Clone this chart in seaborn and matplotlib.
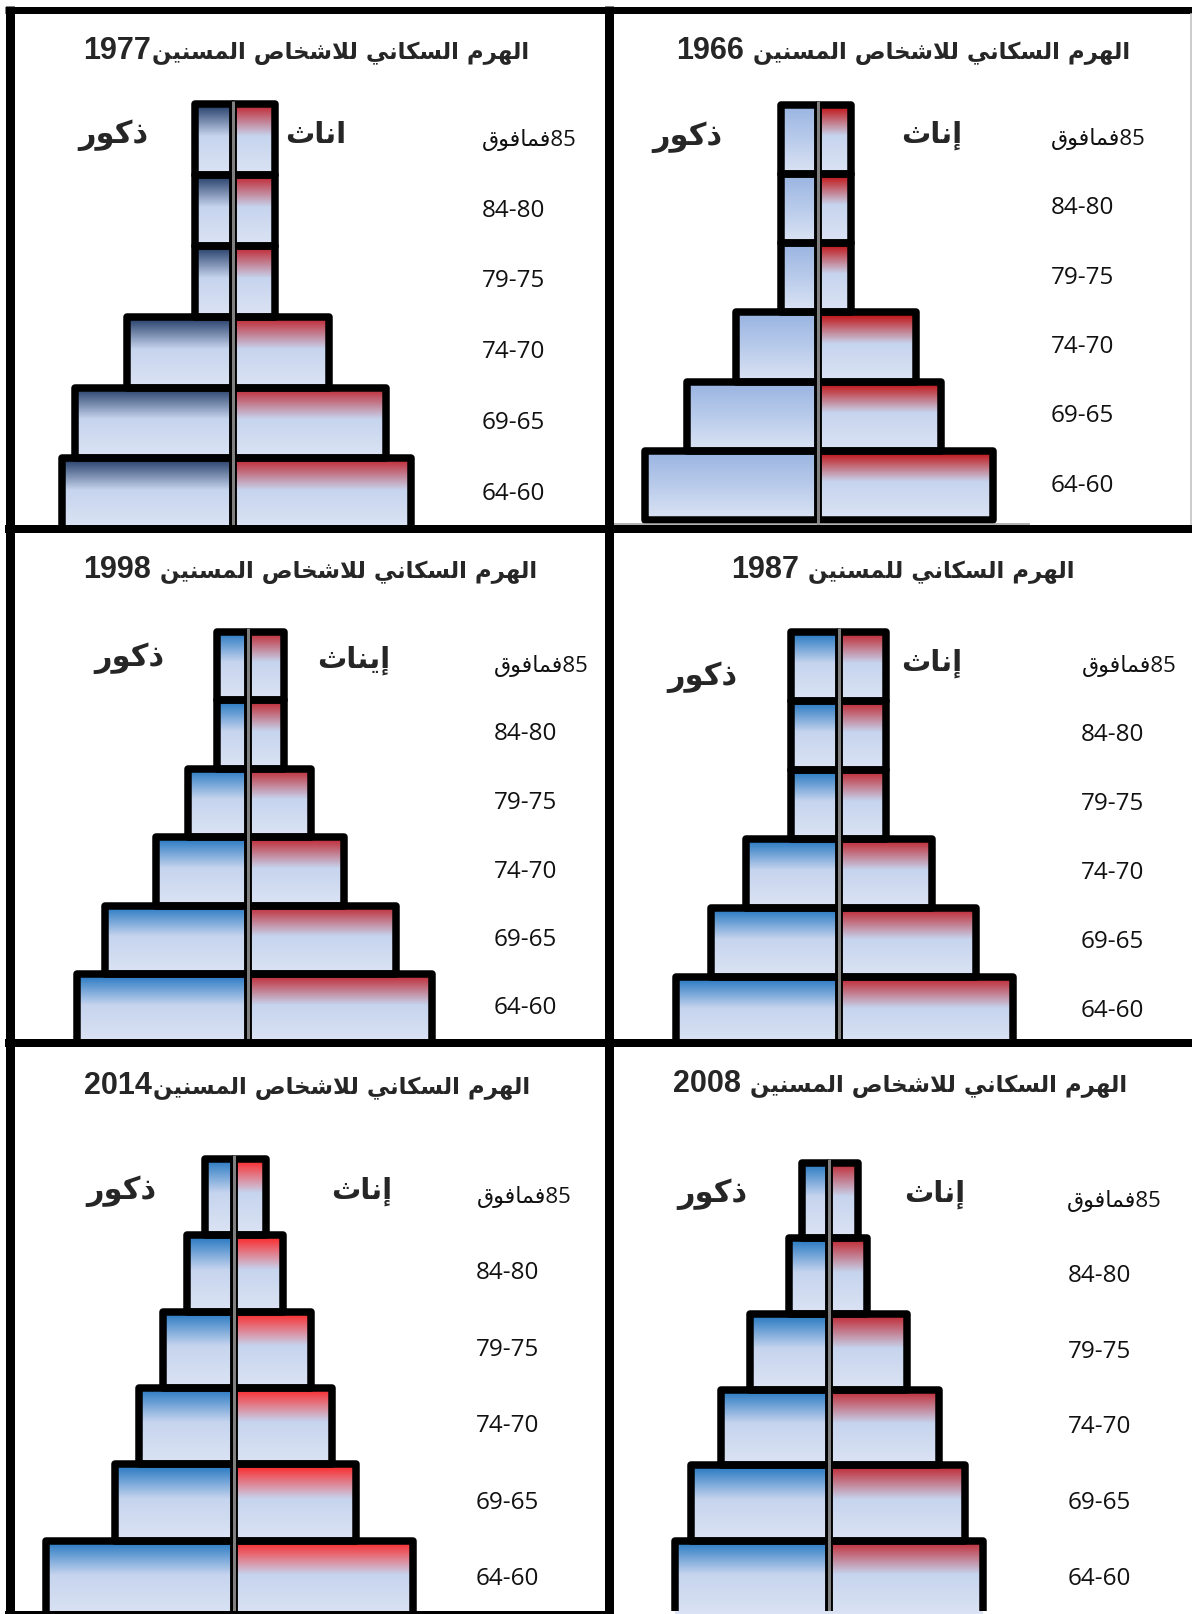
import re
import numpy as np
import pandas as pd
import matplotlib
matplotlib.use("Agg")
import matplotlib.pyplot as plt
from matplotlib.colors import to_rgb
from matplotlib.lines import Line2D
import seaborn as sns

# ---------------------------------------------------------------- data
AGE_GROUPS = ["85فمافوق", "84-80", "79-75", "74-70", "69-65", "64-60"]
MALE_TEXT = "ذكور"

TITLE_1977 = "الهرم السكاني للاشخاص المسنين1977"
TITLE_1966 = "الهرم السكاني للاشخاص المسنين 1966"
TITLE_1998 = "الهرم السكاني للاشخاص المسنين 1998"
TITLE_1987 = "الهرم السكاني للمسنين 1987"
TITLE_2014 = "الهرم السكاني للاشخاص المسنين2014"
TITLE_2008 = "الهرم السكاني للاشخاص المسنين 2008"

FEMALE_1977 = "اناث"
FEMALE_1966 = "إناث"
FEMALE_1998 = "إيناث"
FEMALE_1987 = "إناث"
FEMALE_2014 = "إناث"
FEMALE_2008 = "إناث"

# relative bar lengths, oldest group first
male_1977 = [38, 38, 38, 106, 158, 171]
female_1977 = [41, 41, 41, 95, 152, 177]
male_1966 = [37, 37, 37, 82, 131, 173]
female_1966 = [33, 33, 33, 98, 123, 175]
male_1998 = [31, 31, 60, 92, 143, 171]
female_1998 = [36, 36, 63, 96, 148, 184]
male_1987 = [48, 48, 48, 93, 128, 163]
female_1987 = [47, 47, 47, 93, 137, 174]
male_2014 = [29, 47, 71, 95, 119, 188]
female_2014 = [32, 49, 77, 98, 122, 179]
male_2008 = [27, 40, 79, 108, 138, 154]
female_2008 = [29, 38, 78, 110, 136, 154]

# ---------------------------------------------------------------- arabic shaping
AR_FORMS = {
    "\u0627": ("\uFE8D", "\uFE8E", None, None),
    "\u0625": ("\uFE87", "\uFE88", None, None),
    "\u062B": ("\uFE99", "\uFE9A", "\uFE9B", "\uFE9C"),
    "\u062E": ("\uFEA5", "\uFEA6", "\uFEA7", "\uFEA8"),
    "\u0630": ("\uFEAB", "\uFEAC", None, None),
    "\u0631": ("\uFEAD", "\uFEAE", None, None),
    "\u0633": ("\uFEB1", "\uFEB2", "\uFEB3", "\uFEB4"),
    "\u0634": ("\uFEB5", "\uFEB6", "\uFEB7", "\uFEB8"),
    "\u0635": ("\uFEB9", "\uFEBA", "\uFEBB", "\uFEBC"),
    "\u0641": ("\uFED1", "\uFED2", "\uFED3", "\uFED4"),
    "\u0642": ("\uFED5", "\uFED6", "\uFED7", "\uFED8"),
    "\u0643": ("\uFED9", "\uFEDA", "\uFEDB", "\uFEDC"),
    "\u0644": ("\uFEDD", "\uFEDE", "\uFEDF", "\uFEE0"),
    "\u0645": ("\uFEE1", "\uFEE2", "\uFEE3", "\uFEE4"),
    "\u0646": ("\uFEE5", "\uFEE6", "\uFEE7", "\uFEE8"),
    "\u0647": ("\uFEE9", "\uFEEA", "\uFEEB", "\uFEEC"),
    "\u0648": ("\uFEED", "\uFEEE", None, None),
    "\u064A": ("\uFEF1", "\uFEF2", "\uFEF3", "\uFEF4"),
    "\u0640": ("\u0640", "\u0640", "\u0640", "\u0640"),
}
LAM_ALEF = {"\u0627": ("\uFEFB", "\uFEFC"), "\u0625": ("\uFEF9", "\uFEFA")}


def shape(s):
    out, prev_joins, i = [], False, 0
    while i < len(s):
        ch = s[i]
        if ch not in AR_FORMS:
            out.append(ch)
            prev_joins = False
            i += 1
            continue
        if ch == "\u0644" and i + 1 < len(s) and s[i + 1] in LAM_ALEF:
            iso, fin = LAM_ALEF[s[i + 1]]
            out.append(fin if prev_joins else iso)
            prev_joins = False
            i += 2
            continue
        nxt = s[i + 1] if i + 1 < len(s) else ""
        iso, fin, ini, med = AR_FORMS[ch]
        fwd = ini is not None and nxt in AR_FORMS
        if prev_joins and fwd:
            out.append(med)
        elif prev_joins:
            out.append(fin)
        elif fwd:
            out.append(ini)
        else:
            out.append(iso)
        prev_joins = fwd
        i += 1
    return "".join(out)


def visual(s):
    """Shape Arabic letters and lay runs out right-to-left."""
    runs = []
    for ch in shape(s):
        ltr = ch.isascii() and (ch.isalnum() or ch in "-.")
        if runs and runs[-1][0] == ltr:
            runs[-1][1].append(ch)
        else:
            runs.append([ltr, [ch]])
    return "".join("".join(c) if ltr else "".join(reversed(c)) for ltr, c in reversed(runs))


# ---------------------------------------------------------------- styling
sns.set_style("white")
plt.rcParams["font.family"] = ["DejaVu Sans"]

W, H = 1192, 1614
fig = plt.figure(figsize=(W / 100, H / 100), dpi=100)
fig.patch.set_facecolor("white")
renderer = fig.canvas.get_renderer()

PX = 0.72                 # points per pixel at 100 dpi
EDGE_PX = 7.5             # bar outline thickness
LIGHT_MID = "#c6d4ee"
LIGHT_BOT = "#dce4f4"
AGE_FONT = ["Open Sans", "DejaVu Sans"]


def gradient(top, knee=0.45, mid=LIGHT_MID, bot=LIGHT_BOT, n=256):
    t = np.linspace(0, 1, n)[:, None]
    a, b, c = (np.array(to_rgb(v)) for v in (top, mid, bot))
    upper = a + (b - a) * np.clip(t / knee, 0, 1)
    lower = b + (c - b) * np.clip((t - knee) / (1 - knee), 0, 1)
    rgb = np.where(t < knee, upper, lower)
    return rgb[:, None, :]


def draw_title(title, center, base):
    """Year on the left in Latin digits, Arabic words to its right."""
    m = re.search(r"(\s*)(\d+)$", title)
    words, year = title[:m.start()], m.group(2)
    gap = 9 if m.group(1) else 1
    ty = 1 - base / H
    td = fig.text(0, ty, year, ha="left", va="baseline", fontsize=22,
                  fontweight="bold", family=["Liberation Sans", "DejaVu Sans"])
    ta = fig.text(0, ty, visual(words), ha="right", va="baseline",
                  fontsize=16.5, fontweight="bold")
    dw = td.get_window_extent(renderer).width
    aw = ta.get_window_extent(renderer).width
    left = center - (dw + gap + aw) / 2
    td.set_x(left / W)
    ta.set_x((left + dw + gap + aw) / W)


def draw_panel(male, female, title, female_text, lay, m_grad, f_grad):
    x0, y0, x1, y1 = lay["cell"]
    cx, top_geo, rh = lay["cx"], lay["top"] + EDGE_PX / 2, lay["row_h"]
    ax = fig.add_axes([x0 / W, 1 - y1 / H, (x1 - x0) / W, (y1 - y0) / H])

    df = pd.DataFrame({
        "age": AGE_GROUPS * 2,
        "value": [-v for v in male] + list(female),
        "sex": ["m"] * len(male) + ["f"] * len(female),
    })
    sns.barplot(data=df, x="value", y="age", hue="sex", hue_order=["m", "f"],
                order=AGE_GROUPS, dodge=False, orient="h", width=1.0,
                palette={"m": "#5b8fd6", "f": "#c0202a"}, errorbar=None,
                edgecolor="black", linewidth=EDGE_PX * PX, legend=False, ax=ax)

    for p in list(ax.patches):
        bx, bw, by, bh = p.get_x(), p.get_width(), p.get_y(), p.get_height()
        if bw == 0:
            continue
        left, right = min(bx, bx + bw), max(bx, bx + bw)
        img = m_grad if left < 0 else f_grad
        im = ax.imshow(img, extent=(left, right, by + bh, by), aspect="auto",
                       interpolation="bilinear", zorder=1)
        im.set_clip_path(p)
        p.set_facecolor("none")
        p.set_joinstyle("round")
        p.set_zorder(3)

    y_top = (y0 - top_geo) / rh - 0.5
    y_bot = (y1 - top_geo) / rh - 0.5
    ax.set_xlim(x0 - cx, x1 - cx)
    ax.set_ylim(y_bot, y_top)
    ax.axis("off")

    # central divider
    ax.plot([0, 0], [-0.5 - (EDGE_PX / 2) / rh, y_bot], color="#808080",
            lw=3 * PX, zorder=4, solid_capstyle="butt")

    # age labels
    for i, lab in enumerate(AGE_GROUPS):
        if i == 0:
            ax.text(lay["lab85"] - cx, i, visual(lab), ha="right", va="center",
                    fontsize=16, family=AGE_FONT, color="#111111")
        else:
            ax.text(lay["lab"] - cx, i, visual(lab), ha="left", va="center",
                    fontsize=17.5, family=AGE_FONT, color="#111111")

    draw_title(title, *lay["title"])
    mx, my = lay["male"]
    fig.text(mx / W, 1 - my / H, visual(MALE_TEXT), ha="center", va="center",
             fontsize=22, fontweight="bold")
    fx, fy = lay["female"]
    fig.text(fx / W, 1 - fy / H, visual(female_text), ha="center", va="center",
             fontsize=21, fontweight="bold")


BLUE = "#1f74c0"
RED = "#c0202a"

panels = [
    (male_1977, female_1977, TITLE_1977, FEMALE_1977,
     dict(cell=(14, 13, 604, 525), cx=233.5, top=100.6, row_h=70.8, lab=481.8, lab85=576.5,
          title=(306, 59), male=(113, 135), female=(316, 135)),
     gradient("#1f3864"), gradient(RED)),
    (male_1966, female_1966, TITLE_1966, FEMALE_1966,
     dict(cell=(613, 13, 1192, 525), cx=818, top=100.8, row_h=69.3, lab=1051, lab85=1145.7,
          title=(903, 59), male=(687, 137), female=(932, 135)),
     gradient("#98b3e1", knee=0.5, mid="#b9cbeb"), gradient("#c00000")),
    (male_1998, female_1998, TITLE_1998, FEMALE_1998,
     dict(cell=(14, 533, 604, 1039), cx=247.5, top=628, row_h=68.5, lab=494, lab85=588.8,
          title=(310, 578), male=(129, 658), female=(354, 660)),
     gradient(BLUE), gradient(RED)),
    (male_1987, female_1987, TITLE_1987, FEMALE_1987,
     dict(cell=(613, 533, 1192, 1039), cx=839, top=628, row_h=69.0, lab=1081, lab85=1176.6,
          title=(903, 578), male=(702, 677), female=(932, 663)),
     gradient(BLUE), gradient(RED)),
    (male_2014, female_2014, TITLE_2014, FEMALE_2014,
     dict(cell=(14, 1047, 604, 1611), cx=234, top=1155, row_h=76.4, lab=475.6, lab85=571.3,
          title=(307, 1094), male=(121, 1191), female=(362, 1191)),
     gradient(BLUE), gradient("#ff1f1f")),
    (male_2008, female_2008, TITLE_2008, FEMALE_2008,
     dict(cell=(613, 1047, 1192, 1611), cx=829, top=1159, row_h=75.6, lab=1067.5, lab85=1161.2,
          title=(900, 1092), male=(712, 1194), female=(935, 1194)),
     gradient(BLUE), gradient(RED)),
]

for m, f, t, ft, lay, mg, fg in panels:
    draw_panel(m, f, t, ft, lay, mg, fg)


def frame_line(xs, ys, lw_px, color="black"):
    fig.add_artist(Line2D([x / W for x in xs], [1 - y / H for y in ys],
                          transform=fig.transFigure, color=color,
                          lw=lw_px * PX, solid_capstyle="butt", zorder=10))


frame_line([5, 1192], [9.5, 9.5], 7)            # top edge
frame_line([9.5, 9.5], [6, 1614], 9)            # left edge
frame_line([608.5, 608.5], [6, 1614], 9)        # column divider
frame_line([5, 1192], [529, 529], 8)            # row dividers
frame_line([5, 1192], [1043, 1043], 8)
frame_line([5, 612], [1612.5, 1612.5], 4)       # bottom edge
frame_line([614, 1030], [523.5, 523.5], 1.5, "#9a9a9a")
frame_line([1190.5, 1190.5], [13, 525], 1.5, "#bdbdbd")

fig.savefig("out.png", dpi=100, facecolor="white")
